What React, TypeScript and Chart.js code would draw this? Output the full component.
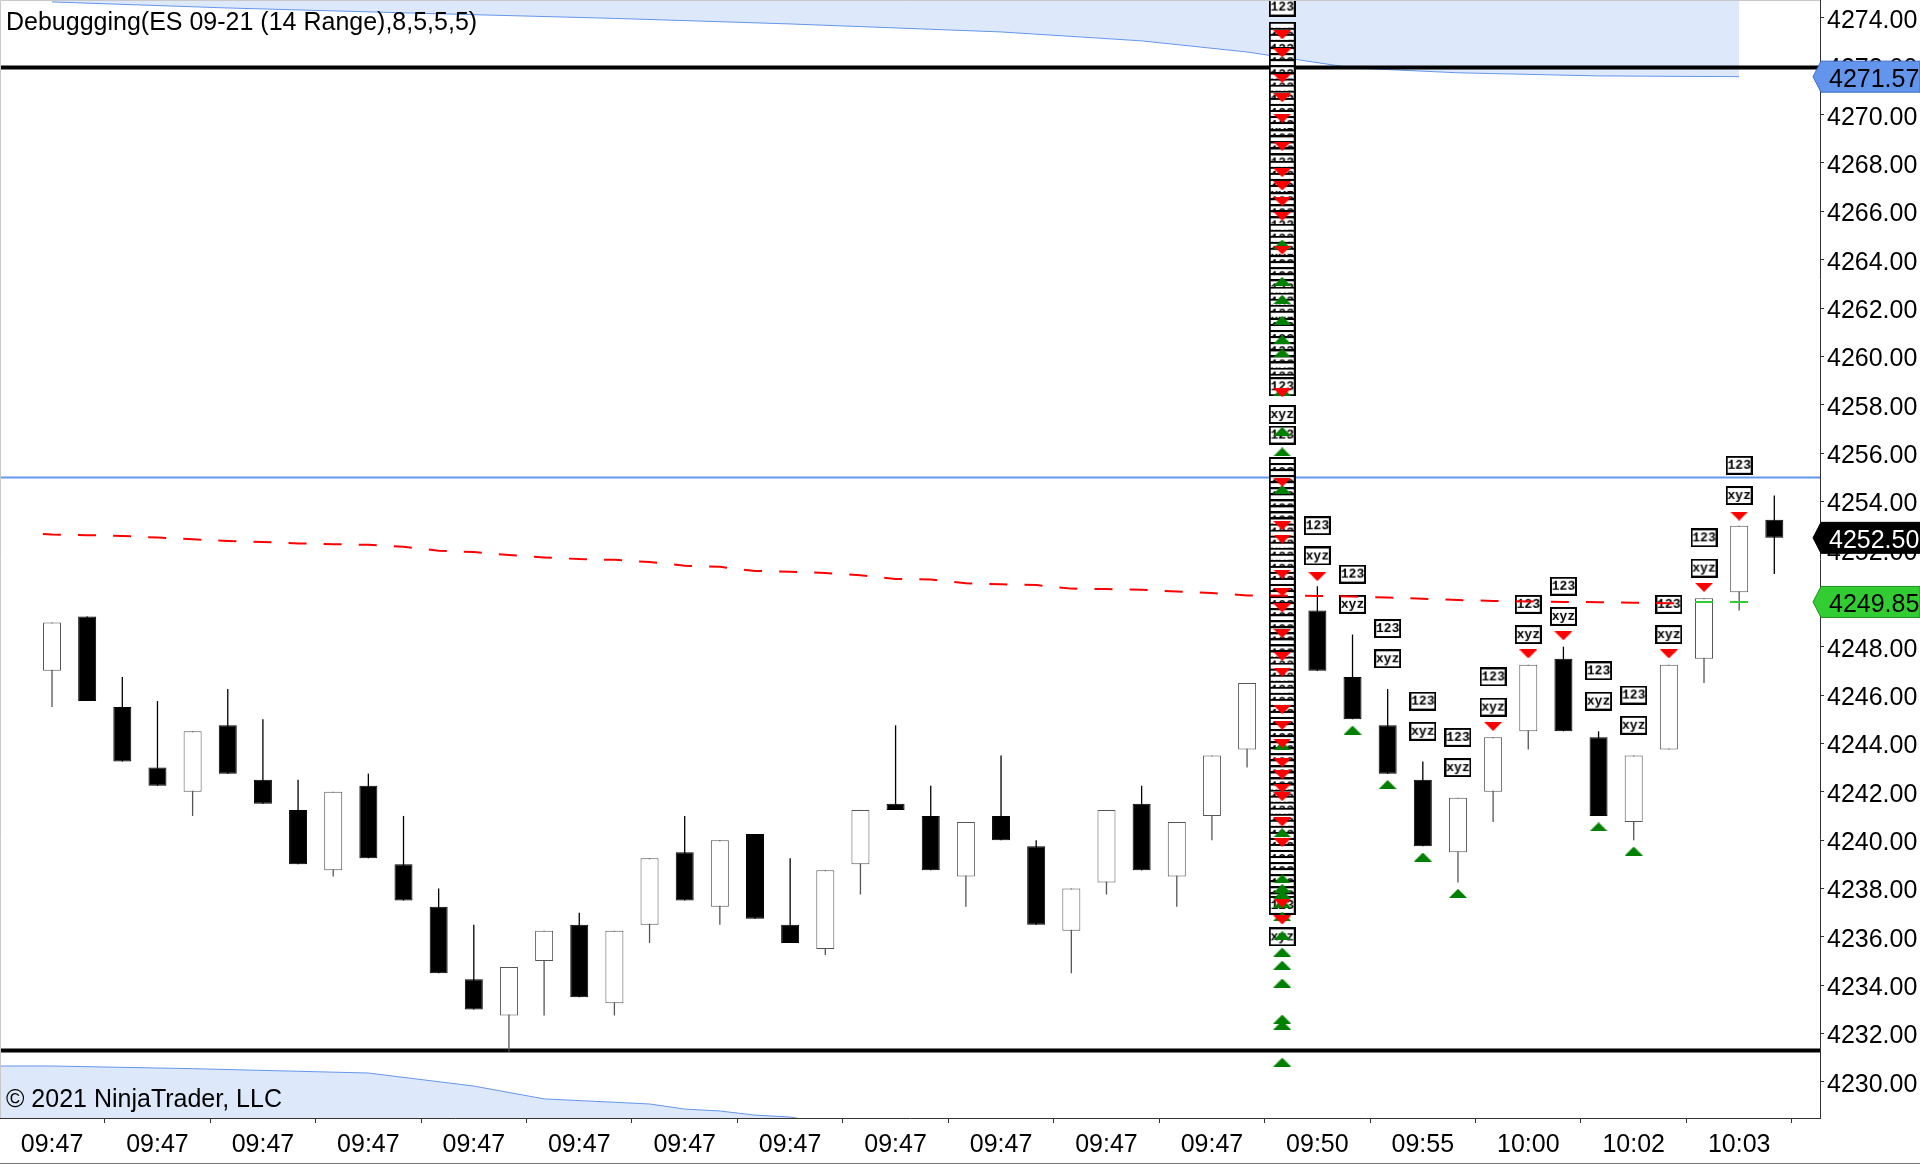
import React, { useEffect, useRef } from "react";
import { Chart, registerables } from "chart.js";

Chart.register(...registerables);

const FONT = '"Liberation Sans", Arial, sans-serif';
const TITLE = "Debuggging(ES 09-21 (14 Range),8,5,5,5)";
const COPYRIGHT = "\u00A9 2021 NinjaTrader, LLC";

// visible ranges of the scales
const X_MIN = -1.48;
const X_MAX = 50.3;
const Y_MIN = 4228.51;
const Y_MAX = 4274.74;

// ---- candles (14 range bars) ----
const barIndex = [0, 1, 2, 3, 4, 5, 6, 7, 8, 9, 10, 11, 12, 13, 14, 15, 16, 17, 18, 19, 20, 21, 22, 23, 24, 25, 26, 27, 28, 29, 30, 31, 32, 33, 34, 36, 37, 38, 39, 40, 41, 42, 43, 44, 45, 46, 47, 48, 49];
const opens = [4247, 4249.25, 4245.5, 4243, 4242, 4244.75, 4242.5, 4241.25, 4238.75, 4242.25, 4239, 4237.25, 4234.25, 4232.75, 4235, 4236.5, 4233.25, 4236.5, 4239.5, 4237.25, 4240.25, 4236.5, 4235.5, 4239, 4241.5, 4241, 4238.5, 4241, 4239.75, 4236.25, 4238.25, 4241.5, 4238.5, 4241, 4243.75, 4249.5, 4246.75, 4244.75, 4242.5, 4239.5, 4242, 4244.5, 4247.5, 4244.25, 4240.75, 4243.75, 4247.5, 4250.25, 4253.25];
const highs = [4249, 4249.25, 4246.75, 4245.75, 4244.5, 4246.25, 4245, 4242.5, 4242, 4242.75, 4241, 4238, 4236.5, 4234.75, 4236.25, 4237, 4236.25, 4239.25, 4241, 4240, 4240.25, 4239.25, 4238.75, 4241.25, 4244.75, 4242.25, 4240.75, 4243.5, 4240, 4238, 4241.25, 4242.25, 4240.75, 4243.5, 4246.5, 4250.5, 4248.5, 4246.25, 4243.25, 4241.75, 4244.25, 4247.25, 4248, 4244.5, 4243.5, 4247.25, 4250, 4253, 4254.25];
const lows = [4245.5, 4245.75, 4243.25, 4242.25, 4241, 4242.75, 4241.5, 4239, 4238.5, 4239.25, 4237.5, 4234.5, 4233, 4231.25, 4232.75, 4233.5, 4232.75, 4235.75, 4237.5, 4236.5, 4236.75, 4235.75, 4235.25, 4237.75, 4241.25, 4238.75, 4237.25, 4240, 4236.5, 4234.5, 4237.75, 4238.75, 4237.25, 4240, 4243, 4247, 4245, 4242.75, 4239.75, 4238.25, 4240.75, 4243.75, 4244.5, 4241, 4240, 4243.75, 4246.5, 4249.5, 4251];
const closes = [4249, 4245.75, 4243.25, 4242.25, 4244.5, 4242.75, 4241.5, 4239, 4242, 4239.25, 4237.5, 4234.5, 4233, 4234.75, 4236.25, 4233.5, 4236.25, 4239.25, 4237.5, 4240, 4236.75, 4235.75, 4238.75, 4241.25, 4241.25, 4238.75, 4240.75, 4240, 4236.5, 4238, 4241.25, 4238.75, 4240.75, 4243.5, 4246.5, 4247, 4245, 4242.75, 4239.75, 4241.75, 4244.25, 4247.25, 4244.5, 4241, 4243.5, 4247.25, 4250, 4253, 4252.5];

// ---- axis ticks ----
const xTickValues = [0, 3, 6, 9, 12, 15, 18, 21, 24, 27, 30, 33, 36, 39, 42, 45, 48];
const xTickLabels = ["09:47", "09:47", "09:47", "09:47", "09:47", "09:47", "09:47", "09:47", "09:47", "09:47", "09:47", "09:47", "09:50", "09:55", "10:00", "10:02", "10:03"];
const yTickValues = [4230, 4232, 4234, 4236, 4238, 4240, 4242, 4244, 4246, 4248, 4250, 4252, 4254, 4256, 4258, 4260, 4262, 4264, 4266, 4268, 4270, 4272, 4274];

// ---- signal markers on the recent bars ----
const sigIndex = [36, 37, 38, 39, 40, 41, 42, 43, 44, 45, 46, 47, 48];
const sig123 = [4253.0, 4251.0, 4248.75, 4245.75, 4244.25, 4246.75, 4249.75, 4250.5, 4247.0, 4246.0, 4249.75, 4252.5, 4255.5];
const sigXyz = [4251.75, 4249.75, 4247.5, 4244.5, 4243.0, 4245.5, 4248.5, 4249.25, 4245.75, 4244.75, 4248.5, 4251.25, 4254.25];
const redTriIndex = [36, 41, 42, 43, 46, 47, 48];
const redTriPrice = [4250.9, 4244.7, 4247.7, 4248.45, 4247.7, 4250.45, 4253.4];
const greenTriIndex = [37, 38, 39, 40, 44, 45];
const greenTriPrice = [4244.55, 4242.3, 4239.3, 4237.8, 4240.55, 4239.55];

// ---- the piled-up debug column on one bar ----
const COLUMN_BAR = 35;
const columnBoxes: [number, string][] = [
  [4274.45, "123"],
  [4273.45, "xyz"], [4273.2, "123"], [4272.95, "xyz"], [4272.7, "123"], [4272.4, "xyz"], [4272.15, "123"], [4271.9, "xyz"], [4271.65, "123"],
  [4271.35, "xyz"], [4271.1, "123"], [4270.85, "xyz"], [4270.6, "123"], [4270.3, "xyz"], [4270.05, "123"], [4269.8, "xyz"], [4269.55, "123"],
  [4269.3, "xyz"], [4269.0, "123"], [4268.75, "xyz"], [4268.5, "123"], [4268.25, "xyz"], [4268.0, "123"], [4267.7, "xyz"], [4267.45, "123"],
  [4267.2, "xyz"], [4266.95, "123"], [4266.7, "xyz"], [4266.4, "123"], [4266.15, "xyz"], [4265.9, "123"], [4265.65, "xyz"], [4265.4, "123"],
  [4265.1, "xyz"], [4264.85, "123"], [4264.6, "xyz"], [4264.35, "123"], [4264.1, "xyz"], [4263.8, "123"], [4263.55, "xyz"], [4263.3, "123"],
  [4263.05, "xyz"], [4262.8, "123"], [4262.5, "xyz"], [4262.25, "123"], [4262.0, "xyz"], [4261.75, "123"], [4261.5, "xyz"], [4261.2, "123"],
  [4260.95, "xyz"], [4260.7, "123"], [4260.45, "xyz"], [4260.2, "123"], [4259.9, "xyz"], [4259.65, "123"], [4259.4, "xyz"], [4259.15, "123"],
  [4258.9, "xyz"], [4258.75, "123"],
  [4257.6, "xyz"], [4256.75, "123"],
  [4255.45, "xyz"], [4255.2, "123"], [4254.95, "xyz"], [4254.7, "123"], [4254.45, "xyz"], [4254.2, "123"], [4253.95, "xyz"], [4253.7, "123"],
  [4253.45, "xyz"], [4253.2, "123"], [4252.95, "xyz"], [4252.7, "123"], [4252.45, "xyz"], [4252.2, "123"], [4251.95, "xyz"], [4251.7, "123"],
  [4251.45, "xyz"], [4251.2, "123"], [4250.95, "xyz"], [4250.7, "123"], [4250.45, "xyz"], [4250.2, "123"], [4249.95, "xyz"], [4249.7, "123"],
  [4249.45, "xyz"], [4249.2, "123"], [4248.95, "xyz"], [4248.7, "123"], [4248.45, "xyz"], [4248.2, "123"], [4247.95, "xyz"], [4247.7, "123"],
  [4247.45, "xyz"], [4247.2, "123"], [4246.95, "xyz"], [4246.7, "123"], [4246.45, "xyz"], [4246.2, "123"], [4245.95, "xyz"], [4245.7, "123"],
  [4245.45, "xyz"], [4245.2, "123"], [4244.95, "xyz"], [4244.7, "123"], [4244.45, "xyz"], [4244.2, "123"], [4243.95, "xyz"], [4243.7, "123"],
  [4243.45, "xyz"], [4243.2, "123"], [4242.95, "xyz"], [4242.7, "123"], [4242.45, "xyz"], [4242.2, "123"], [4241.95, "xyz"], [4241.7, "123"],
  [4241.45, "xyz"], [4241.2, "123"], [4240.95, "xyz"], [4240.7, "123"], [4240.45, "xyz"], [4240.2, "123"], [4239.95, "xyz"], [4239.7, "123"],
  [4239.45, "xyz"], [4239.2, "123"], [4238.95, "xyz"], [4238.7, "123"], [4238.45, "xyz"], [4238.2, "123"], [4237.95, "xyz"], [4237.7, "123"],
  [4237.45, "xyz"], [4237.3, "123"],
  [4236.0, "xyz"],
];
const columnRedTri = [4273.3, 4272.55, 4271.5, 4270.7, 4269.85, 4268.7, 4267.6, 4267.05, 4266.4, 4265.8, 4264.4, 4258.5, 4254.8, 4253.0, 4252.45, 4251.0, 4250.26, 4249.6, 4248.55, 4247.6, 4246.95, 4245.4, 4244.75, 4244.0, 4243.2, 4242.7, 4242.15, 4241.8, 4240.75, 4239.9, 4237.4, 4236.7];
const columnGreenTri = [4264.65, 4263.1, 4262.35, 4261.5, 4260.7, 4260.15, 4258.55, 4256.9, 4256.05, 4254.5, 4243.9, 4240.3, 4238.4, 4238.0, 4237.75, 4237.4, 4236.85, 4236.05, 4235.37, 4234.83, 4234.09, 4232.6, 4232.35, 4230.82];

// ---- indicator lines ----
const trendIndex = [-0.26, 0, 1, 2, 3, 4, 5, 6, 7, 8, 9, 10, 11, 12, 13, 14, 15, 16, 17, 18, 19, 20, 21, 22, 23, 24, 25, 26, 27, 28, 29, 30, 31, 32, 33, 34, 35, 36, 37, 38, 39, 40, 41, 42, 43, 44, 45, 46, 46.26];
const trendPrice = [4252.66, 4252.64, 4252.61, 4252.58, 4252.51, 4252.44, 4252.37, 4252.33, 4252.27, 4252.24, 4252.21, 4252.13, 4251.97, 4251.91, 4251.79, 4251.69, 4251.62, 4251.59, 4251.5, 4251.35, 4251.3, 4251.13, 4251.1, 4251.05, 4250.95, 4250.8, 4250.78, 4250.62, 4250.58, 4250.55, 4250.4, 4250.38, 4250.35, 4250.28, 4250.22, 4250.12, 4250.11, 4250.1, 4250.07, 4250.03, 4249.98, 4249.93, 4249.89, 4249.87, 4249.85, 4249.84, 4249.82, 4249.8, 4249.8];
const greenTrendIndex = [46.74, 48.26];
const greenTrendPrice = [4249.85, 4249.85];

const upperBandIndex = [0, 5, 10, 16, 21, 27, 31, 34, 37, 40, 44, 48];
const upperBandPrice = [4274.66, 4274.41, 4274.21, 4273.98, 4273.75, 4273.42, 4273.05, 4272.59, 4271.93, 4271.73, 4271.6, 4271.57];
const lowerBandIndex = [-1.48, 0, 4, 9, 12, 14, 17, 18, 19, 20, 21, 22];
const lowerBandPrice = [4230.66, 4230.66, 4230.55, 4230.37, 4229.83, 4229.3, 4229.09, 4228.88, 4228.8, 4228.63, 4228.55, 4228.3];

const blackLevels = [4271.95, 4231.3];
const blueLevel = 4255.0;

const priceMarkers = [4271.57, 4252.5, 4249.85];
const markerFill = ["#6495ED", "#000000", "#32CD32"];
const markerText = ["#000000", "#ffffff", "#000000"];
const markerEdge = ["#3d6cc4", "#000000", "#1f8f1f"];

function makeBox(text: string): HTMLCanvasElement {
  const c = document.createElement("canvas");
  c.width = 27;
  c.height = 19;
  const g = c.getContext("2d")!;
  g.fillStyle = "#ffffff";
  g.fillRect(0, 0, 27, 19);
  g.strokeStyle = "#000000";
  g.lineWidth = 2;
  g.strokeRect(1, 1, 25, 17);
  g.fillStyle = "#000000";
  g.font = 'bold 13px "Liberation Mono", "DejaVu Sans Mono", monospace';
  g.textAlign = "center";
  g.textBaseline = "middle";
  g.fillText(text, 13.5, 10);
  return c;
}

function makeTri(color: string, up: boolean): HTMLCanvasElement {
  const c = document.createElement("canvas");
  c.width = 18;
  c.height = 9;
  const g = c.getContext("2d")!;
  g.fillStyle = color;
  g.beginPath();
  if (up) {
    g.moveTo(0, 9);
    g.lineTo(18, 9);
    g.lineTo(9, 0);
  } else {
    g.moveTo(0, 0);
    g.lineTo(18, 0);
    g.lineTo(9, 9);
  }
  g.closePath();
  g.fill();
  return c;
}

const overlayPlugin = {
  id: "ntOverlay",
  afterDraw(chart: any) {
    const ctx = chart.ctx as CanvasRenderingContext2D;
    const a = chart.chartArea;
    const ys = chart.scales.y;
    ctx.save();
    // frame
    ctx.strokeStyle = "#c8c8c8";
    ctx.lineWidth = 1;
    ctx.beginPath();
    ctx.moveTo(a.left + 0.5, a.bottom);
    ctx.lineTo(a.left + 0.5, a.top + 0.5);
    ctx.lineTo(a.right, a.top + 0.5);
    ctx.stroke();
    ctx.strokeStyle = "#777777";
    ctx.beginPath();
    ctx.moveTo(0, chart.height - 0.5);
    ctx.lineTo(chart.width, chart.height - 0.5);
    ctx.stroke();
    // texts
    ctx.font = "25px " + FONT;
    ctx.fillStyle = "#000000";
    ctx.textAlign = "left";
    ctx.textBaseline = "alphabetic";
    ctx.fillText(TITLE, a.left + 6, a.top + 30);
    ctx.fillText(COPYRIGHT, a.left + 6, a.bottom - 11);
    // price markers on axis
    priceMarkers.forEach((p, k) => {
      const py = ys.getPixelForValue(p);
      const h = 31;
      const x0 = a.right - 7;
      const x1 = a.right + 1;
      const x2 = chart.width;
      ctx.beginPath();
      ctx.moveTo(x0, py);
      ctx.lineTo(x1, py - h / 2);
      ctx.lineTo(x2, py - h / 2);
      ctx.lineTo(x2, py + h / 2);
      ctx.lineTo(x1, py + h / 2);
      ctx.closePath();
      ctx.fillStyle = markerFill[k];
      ctx.fill();
      ctx.strokeStyle = markerEdge[k];
      ctx.lineWidth = 1;
      ctx.stroke();
      ctx.fillStyle = markerText[k];
      ctx.fillText(p.toFixed(2), a.right + 9, py + 10);
    });
    ctx.restore();
  },
};

export default function App() {
  const ref = useRef<HTMLCanvasElement>(null);

  useEffect(() => {
    const canvas = ref.current;
    if (!canvas) return;
    Chart.defaults.font.family = FONT;

    const img123 = makeBox("123");
    const imgXyz = makeBox("xyz");
    const triDown = makeTri("#ff0000", false);
    const triUp = makeTri("#008000", true);

    const isDown = barIndex.map((_, k) => closes[k] < opens[k]);
    const lineCol = isDown.map((d) => (d ? "#000000" : "#555555"));

    const hLine = (level: number, color: string, width: number, order: number) => ({
      type: "line",
      data: [
        { x: X_MIN, y: level },
        { x: X_MAX, y: level },
      ],
      borderColor: color,
      borderWidth: width,
      pointRadius: 0,
      fill: false,
      order,
    });

    const datasets: any[] = [
      {
        type: "line",
        data: upperBandIndex.map((x, k) => ({ x, y: upperBandPrice[k] })),
        borderColor: "#6495ED",
        borderWidth: 1,
        backgroundColor: "rgba(100,149,237,0.22)",
        fill: "end",
        pointRadius: 0,
        order: 100,
      },
      {
        type: "line",
        data: lowerBandIndex.map((x, k) => ({ x, y: lowerBandPrice[k] })),
        borderColor: "#6495ED",
        borderWidth: 1,
        backgroundColor: "rgba(100,149,237,0.22)",
        fill: "start",
        pointRadius: 0,
        order: 100,
      },
      hLine(blueLevel, "#6495ED", 2, 96),
      hLine(blackLevels[0], "#000000", 4, 95),
      hLine(blackLevels[1], "#000000", 4, 95),
      {
        type: "bar",
        data: barIndex.map((x, k) => ({ x, y: [lows[k], highs[k]] })),
        backgroundColor: lineCol,
        borderWidth: 0,
        barThickness: 1.3,
        grouped: false,
        inflateAmount: 0,
        order: 90,
      },
      {
        type: "bar",
        data: barIndex.map((x, k) => ({ x, y: [opens[k], closes[k]] })),
        backgroundColor: isDown.map((d) => (d ? "#000000" : "#ffffff")),
        borderColor: lineCol,
        borderWidth: 1,
        borderSkipped: false,
        barThickness: 18,
        grouped: false,
        inflateAmount: 0,
        order: 89,
      },
      {
        type: "scatter",
        data: sigIndex.map((x, k) => ({ x, y: sig123[k] })),
        pointStyle: img123,
        pointRadius: 10,
        order: 70,
      },
      {
        type: "scatter",
        data: sigIndex.map((x, k) => ({ x, y: sigXyz[k] })),
        pointStyle: imgXyz,
        pointRadius: 10,
        order: 70,
      },
      {
        type: "scatter",
        data: redTriIndex.map((x, k) => ({ x, y: redTriPrice[k] })),
        pointStyle: triDown,
        pointRadius: 6,
        order: 69,
      },
      {
        type: "scatter",
        data: greenTriIndex.map((x, k) => ({ x, y: greenTriPrice[k] })),
        pointStyle: triUp,
        pointRadius: 6,
        order: 69,
      },
      {
        type: "scatter",
        data: columnBoxes.map((b) => ({ x: COLUMN_BAR, y: b[0] })),
        pointStyle: columnBoxes.map((b) => (b[1] === "123" ? img123 : imgXyz)),
        pointRadius: 10,
        order: 60,
      },
      {
        type: "scatter",
        data: columnGreenTri.map((p) => ({ x: COLUMN_BAR, y: p })),
        pointStyle: triUp,
        pointRadius: 6,
        order: 59,
      },
      {
        type: "scatter",
        data: columnRedTri.map((p) => ({ x: COLUMN_BAR, y: p })),
        pointStyle: triDown,
        pointRadius: 6,
        order: 58,
      },
      {
        type: "line",
        data: trendIndex.map((x, k) => ({ x, y: trendPrice[k] })),
        borderColor: "#ff0000",
        borderWidth: 2,
        borderDash: [18, 17.12],
        pointRadius: 0,
        fill: false,
        order: 10,
      },
      {
        type: "line",
        data: greenTrendIndex.map((x, k) => ({ x, y: greenTrendPrice[k] })),
        borderColor: "#32CD32",
        borderWidth: 2,
        borderDash: [18, 17.12],
        pointRadius: 0,
        fill: false,
        order: 10,
      },
    ];

    const chart = new Chart(canvas, {
      type: "bar",
      data: { datasets },
      plugins: [overlayPlugin],
      options: {
        responsive: false,
        devicePixelRatio: 1,
        animation: false,
        events: [],
        layout: { padding: 0, autoPadding: false },
        plugins: {
          legend: { display: false },
          tooltip: { enabled: false },
          title: { display: false },
        },
        scales: {
          x: {
            type: "linear",
            position: "bottom",
            min: X_MIN,
            max: X_MAX,
            offset: false,
            afterBuildTicks: (s: any) => {
              s.ticks = xTickValues.map((v) => ({ value: v }));
            },
            afterFit: (s: any) => {
              s.height = 46;
              s.paddingLeft = 0;
              s.paddingRight = 0;
            },
            grid: { drawOnChartArea: false, drawTicks: true, tickLength: 5, tickColor: "#333333" },
            border: { display: true, color: "#333333", width: 1 },
            ticks: {
              autoSkip: false,
              maxRotation: 0,
              minRotation: 0,
              padding: 7,
              color: "#000000",
              font: { size: 25, family: FONT },
              callback: (_v: any, idx: number) => xTickLabels[idx] ?? "",
            },
          },
          y: {
            type: "linear",
            position: "right",
            min: Y_MIN,
            max: Y_MAX,
            afterBuildTicks: (s: any) => {
              s.ticks = yTickValues.map((v) => ({ value: v }));
            },
            afterFit: (s: any) => {
              s.width = 100;
              s.paddingTop = 0;
              s.paddingBottom = 0;
            },
            grid: { drawOnChartArea: false, drawTicks: true, tickLength: 4, tickColor: "#333333" },
            border: { display: true, color: "#333333", width: 1 },
            ticks: {
              autoSkip: false,
              padding: 3,
              labelOffset: 3,
              color: "#000000",
              font: { size: 25, family: FONT },
              callback: (v: any) => Number(v).toFixed(2),
            },
          },
        },
      } as any,
    } as any);

    return () => chart.destroy();
  }, []);

  return (
    <div style={{ position: "fixed", left: 0, top: 0, width: 1920, height: 1164, background: "#ffffff" }}>
      <canvas ref={ref} width={1920} height={1164} style={{ display: "block" }} />
    </div>
  );
}
